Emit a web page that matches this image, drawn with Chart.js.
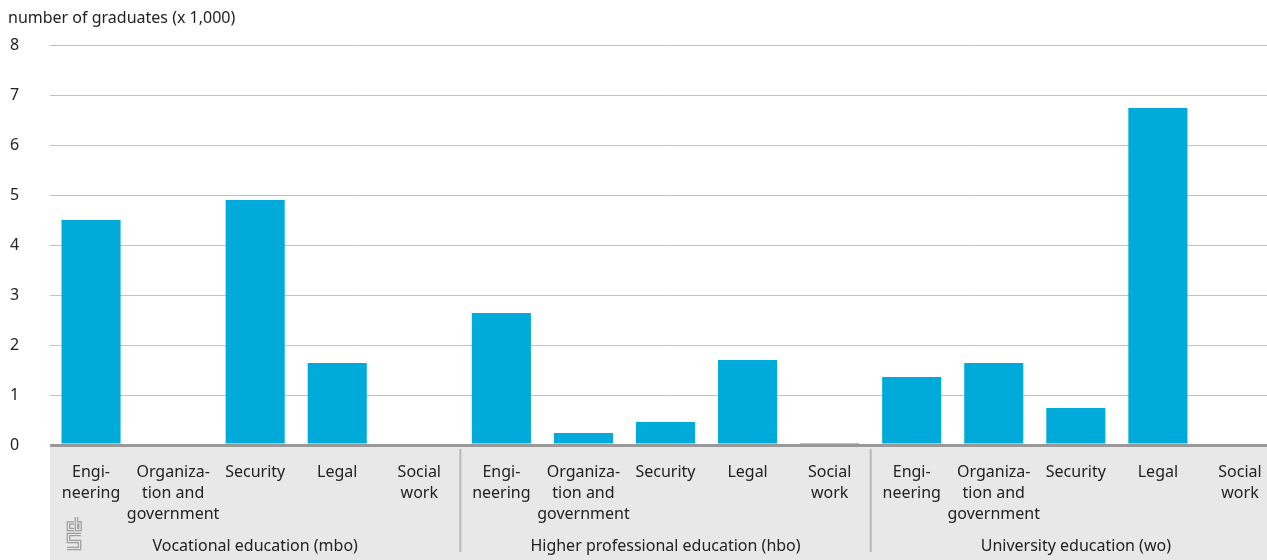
<!DOCTYPE html>
<html>
<head>
<meta charset="utf-8">
<script src="https://cdn.jsdelivr.net/npm/chart.js@4"></script>
<style>
  html, body { margin: 0; padding: 0; overflow: hidden; background: #fff; }
  #wrap { width: 1281px; height: 560px; }
</style>
</head>
<body>
<div id="wrap"><canvas id="gradChart" width="1281" height="560"></canvas></div>
<script>
var groups = ['Vocational education (mbo)', 'Higher professional education (hbo)', 'University education (wo)'];
var fields = [['Engi-', 'neering'], ['Organiza-', 'tion and', 'government'], ['Security'], ['Legal'], ['Social', 'work']];
var mboValues = [4.5, 0, 4.9, 1.64, 0];
var hboValues = [2.64, 0.24, 0.46, 1.7, 0.04];
var woValues = [1.36, 1.64, 0.74, 6.74, 0];
var yTicks = [0, 1, 2, 3, 4, 5, 6, 7, 8];
var yTitle = 'number of graduates (x 1,000)';

(function () {
    'use strict';

    var FONT = '"Noto Sans", sans-serif';
    var TEXT = '#222';
    var BAND = '#e8e8e8';

    var labels = [];
    groups.forEach(function (g) {
        fields.forEach(function (f) { labels.push(f); });
    });
    var values = mboValues.concat(hboValues, woValues);

    function drawLogo(ctx) {
        var paths = [
            [[74, 523], [68.5, 523], [68.5, 529.5], [74, 529.5]],
            [[76.5, 517], [76.5, 529.5], [80, 529.5], [80, 523], [76.5, 523]],
            [[81, 534.5], [68.5, 534.5], [68.5, 541.5], [79.5, 541.5], [79.5, 548.5], [67, 548.5]]
        ];
        [['#9c9c9c', 3.6], [BAND, 1.2]].forEach(function (st) {
            ctx.strokeStyle = st[0];
            ctx.lineWidth = st[1];
            ctx.lineJoin = 'miter';
            paths.forEach(function (p) {
                ctx.beginPath();
                p.forEach(function (pt, i) {
                    if (i === 0) ctx.moveTo(pt[0], pt[1]);
                    else ctx.lineTo(pt[0], pt[1]);
                });
                ctx.stroke();
            });
        });
    }

    // grey band under the axis with field and group labels
    var bottomBand = {
        id: 'bottomBand',
        beforeDraw: function (chart) {
            var ctx = chart.ctx;
            var area = chart.chartArea;
            ctx.save();
            ctx.fillStyle = BAND;
            ctx.fillRect(area.left, area.bottom + 2, area.right - area.left, chart.height - area.bottom);
            ctx.restore();
        },
        afterDraw: function (chart) {
            var ctx = chart.ctx;
            var x = chart.scales.x;
            var area = chart.chartArea;
            var per = fields.length;
            ctx.save();

            // separators between groups
            ctx.strokeStyle = '#b8b8b8';
            ctx.lineWidth = 2;
            for (var s = 1; s < groups.length; s++) {
                var sx = (x.getPixelForValue(s * per - 1) + x.getPixelForValue(s * per)) / 2;
                ctx.beginPath();
                ctx.moveTo(sx, area.bottom + 4);
                ctx.lineTo(sx, area.bottom + 107);
                ctx.stroke();
            }

            ctx.fillStyle = TEXT;
            ctx.font = '16px ' + FONT;
            ctx.textAlign = 'center';
            ctx.textBaseline = 'middle';
            labels.forEach(function (lines, i) {
                var px = x.getPixelForValue(i);
                lines.forEach(function (line, j) {
                    ctx.fillText(line, px, area.bottom + 27 + j * 21);
                });
            });
            groups.forEach(function (g, k) {
                var gx = (x.getPixelForValue(k * per) + x.getPixelForValue(k * per + per - 1)) / 2;
                ctx.fillText(g, gx, area.bottom + 101);
            });

            // title above the axis
            ctx.textAlign = 'left';
            ctx.fillText(yTitle, 8, 18);

            drawLogo(ctx);
            ctx.restore();
        }
    };

    function initChart() {
        var el = document.getElementById('gradChart');
        new Chart(el, {
            type: 'bar',
            data: {
                labels: labels.map(function (l) { return l.join(' '); }),
                datasets: [{
                    data: values,
                    backgroundColor: '#00abd9',
                    borderWidth: 0,
                    barPercentage: 0.72,
                    categoryPercentage: 1,
                }],
            },
            options: {
                responsive: false,
                animation: false,
                layout: { padding: { top: 45, left: 10, right: 0, bottom: 0 } },
                plugins: {
                    legend: { display: false },
                    tooltip: { enabled: false },
                },
                scales: {
                    x: {
                        grid: { display: false },
                        border: { display: false },
                        ticks: { display: false },
                        afterFit: function (s) { s.height = 115; },
                    },
                    y: {
                        min: 0,
                        max: 8,
                        afterBuildTicks: function (s) {
                            s.ticks = yTicks.map(function (v) { return { value: v }; });
                        },
                        afterFit: function (s) { s.width = 40; },
                        border: { display: false },
                        grid: {
                            drawTicks: false,
                            color: function (c) { return c.tick.value === 0 ? '#999' : '#c2c2c2'; },
                            lineWidth: function (c) { return c.tick.value === 0 ? 3 : 1; },
                        },
                        ticks: {
                            crossAlign: 'far',
                            color: TEXT,
                            font: { family: FONT, size: 16 },
                        },
                    },
                },
            },
            plugins: [bottomBand],
        });
    }

    document.addEventListener('DOMContentLoaded', initChart);
})();
</script>
</body>
</html>
